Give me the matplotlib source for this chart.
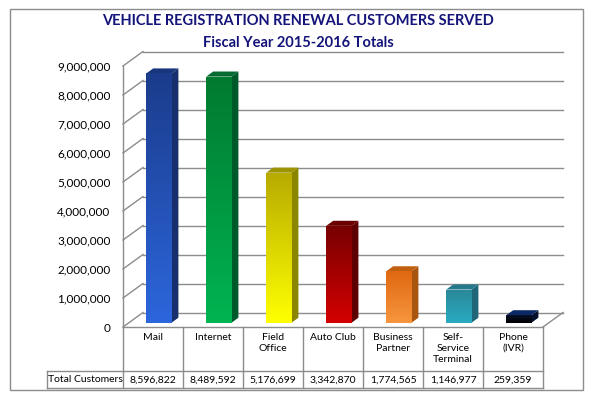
"""
plot.py - Vehicle registration renewal customers served, FY 2015-2016.
Pseudo-3D column chart with a data table underneath (Excel look).
"""
import numpy as np
import matplotlib
matplotlib.use("Agg")
import matplotlib.pyplot as plt
from matplotlib import transforms
from matplotlib.colors import LinearSegmentedColormap
from matplotlib.patches import Polygon, Rectangle

# --- data -----------------------------------------------------------------
categories = ["Mail", "Internet", "Field\nOffice", "Auto Club",
              "Business\nPartner", "Self-\nService\nTerminal", "Phone\n(IVR)"]
customers = [8596822, 8489592, 5176699, 3342870, 1774565, 1146977, 259359]
yticks = [0, 1000000, 2000000, 3000000, 4000000, 5000000,
          6000000, 7000000, 8000000, 9000000]
row_label = "Total Customers"
title = "VEHICLE REGISTRATION RENEWAL CUSTOMERS SERVED"
subtitle = "Fiscal Year 2015-2016 Totals"

# colours: gradient top/bottom of front face, side face, cap
face_top = ["#1b3c8c", "#007a30", "#b8ab00", "#780000",
            "#e06812", "#2a8797", "#061026"]
face_bottom = ["#2c66dc", "#00b452", "#ffff00", "#d40000",
               "#f7963e", "#2aabc2", "#000000"]
side_colors = ["#172f6c", "#00592a", "#8a8600", "#5c0000",
               "#a8560f", "#1e6678", "#04102c"]
cap_colors = ["#18357c", "#006a30", "#9c9400", "#6a0000",
              "#c05f10", "#23788c", "#0c2866"]

GRID = "#8c8c8c"
FONT = "Lato"
W, H = 594, 398

# depth of the 3D box in data units (about 20 px right, 14.5 px up)
DX = 1 / 3
DY = 500000
BAR_W = 0.42
D0 = 0.29   # where the bar front sits inside the depth
DT = 0.35   # bar thickness (fraction of depth)

plt.rcParams["font.family"] = [FONT, "DejaVu Sans"]

fig = plt.figure(figsize=(W / 100, H / 100), dpi=100)
fig.patch.set_facecolor("white")

# overlay in pixel units for frame, titles and table
ov = fig.add_axes([0, 0, 1, 1], zorder=0)
ov.set_xlim(0, W)
ov.set_ylim(H, 0)
ov.axis("off")

# front plane of the chart: x 123..543 px, y 327..66 px
ax = fig.add_axes([123 / W, (H - 327) / H, 420 / W, 261 / H], zorder=1)
ax.patch.set_alpha(0)
ax.set_xlim(0, len(categories))
ax.set_ylim(0, 9000000)
for s in ("top", "right"):
    ax.spines[s].set_visible(False)
for s in ("left", "bottom"):
    ax.spines[s].set_color(GRID)
    ax.spines[s].set_linewidth(1)
ax.set_xticks([])
ax.set_yticks(yticks)
ax.set_yticklabels([f"{v:,}" for v in yticks], fontsize=8.5)
ax.tick_params(axis="y", length=0, pad=9)

# back wall gridlines + slanted side-wall lines
n = len(categories)
for v in yticks:
    ax.plot([DX, n + DX], [v + DY, v + DY], color=GRID, lw=1,
            clip_on=False, zorder=1)
    ax.plot([0, DX], [v, v + DY], color=GRID, lw=1, clip_on=False, zorder=1)
ax.plot([n, n + DX], [0, DY], color=GRID, lw=1, clip_on=False, zorder=1)

# bars
xs = np.arange(n) + 0.5
base = D0 * DY
for i, (x, v) in enumerate(zip(xs, customers)):
    xl = x - BAR_W / 2 + D0 * DX
    xr = xl + BAR_W
    bar = ax.bar(xl, v, width=BAR_W, bottom=base, align="edge",
                 color=face_bottom[i], lw=0, zorder=3, clip_on=False)[0]
    cmap = LinearSegmentedColormap.from_list(
        f"g{i}", [face_bottom[i], face_top[i]])
    grad = np.linspace(0, 1, 64).reshape(-1, 1)
    im = ax.imshow(grad, cmap=cmap, origin="lower", aspect="auto",
                   extent=[xl, xr, base, base + v], zorder=3.1,
                   interpolation="bilinear")
    im.set_clip_path(bar)
    ex, ey = DT * DX, DT * DY
    side = Polygon([(xr, base), (xr + ex, base + ey),
                    (xr + ex, base + v + ey), (xr, base + v)],
                   closed=True, fc=side_colors[i], ec="none", zorder=3,
                   clip_on=False)
    cap = Polygon([(xl, base + v), (xr, base + v),
                   (xr + ex, base + v + ey), (xl + ex, base + v + ey)],
                  closed=True, fc=cap_colors[i], ec="none", zorder=3,
                  clip_on=False)
    ax.add_patch(side)
    ax.add_patch(cap)

ax.set_xlim(0, n)
ax.set_ylim(0, 9000000)

# outer frame and titles
ov.add_patch(Rectangle((10, 9), 573, 381, fill=False, ec=GRID, lw=1))
ov.text(298, 21, title, ha="center", va="center", fontsize=10.5,
        fontweight="bold", color="#14147a")
ov.text(298, 43, subtitle, ha="center", va="center", fontsize=10.5,
        fontweight="bold", color="#14147a")

# data table: x in category units, y in pixels
tr = transforms.blended_transform_factory(ax.transData, ov.transData)
left = -76 / 60
for k in range(n + 1):
    ov.plot([k, k], [327, 388], color=GRID, lw=1, transform=tr)
ov.plot([left, left], [371, 388], color=GRID, lw=1, transform=tr)
ov.plot([left, n], [371, 371], color=GRID, lw=1, transform=tr)
ov.plot([left, n], [388, 388], color=GRID, lw=1, transform=tr)
for x, lab, v in zip(xs, categories, customers):
    ov.text(x, 333, lab, ha="center", va="top", fontsize=7.5,
            linespacing=1.25, transform=tr)
    ov.text(x, 380, f"{v:,}", ha="center", va="center", fontsize=7.5,
            transform=tr)
ov.text(left / 2, 380, row_label, ha="center", va="center", fontsize=7.5,
        transform=tr)

fig.savefig("out.png", dpi=100)
